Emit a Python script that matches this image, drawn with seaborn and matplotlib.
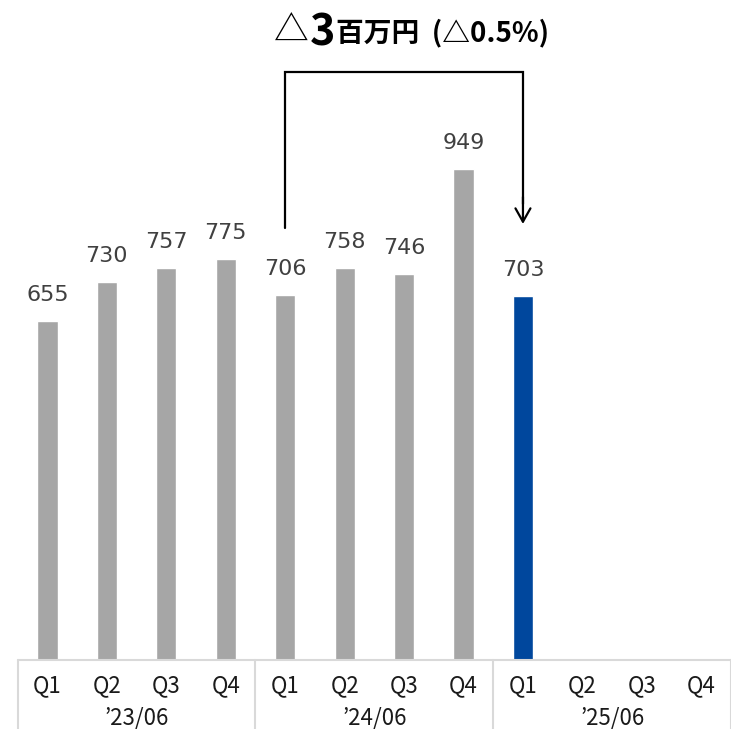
import matplotlib
matplotlib.use("Agg")
import matplotlib.pyplot as plt
import seaborn as sns
import pandas as pd

years = ["’23/06", "’24/06", "’25/06"]
quarters = ["Q1", "Q2", "Q3", "Q4"]
values = [655, 730, 757, 775, 706, 758, 746, 949, 703]
bar_colors = ["#a6a6a6"] * 8 + ["#00479d"]
delta_text = ["△", "3", "百万円  (△0.5%)"]

slots = [f"{y} {q}" for y in years for q in quarters]
df = pd.DataFrame({"slot": slots[:len(values)], "value": values,
                   "c": [str(i) for i in range(len(values))]})

sns.set_theme(style="white")
plt.rcParams['font.family'] = ['Noto Sans CJK JP', 'DejaVu Sans']

fig = plt.figure(figsize=(7.31, 7.29), dpi=100)
ax = fig.add_axes([17.7 / 731, 69 / 729, 1 - 17.7 / 731, 660 / 729])
sns.barplot(data=df, x="slot", y="value", hue="c", order=slots,
            palette=bar_colors, width=0.34, legend=False, ax=ax, dodge=False,
            saturation=1)
ax.set_ylim(0, 1275)
ax.set_xlim(-0.5, 11.5)
for s in ax.spines.values():
    s.set_visible(False)
ax.set_yticks([])
ax.set_xticks([])
ax.set_xlabel("")
ax.set_ylabel("")
ax.axhline(0, color="#d9d9d9", lw=1.5, clip_on=False)

# value labels
for i, v in enumerate(values):
    ax.text(i, v + 50, f"{v}", ha="center", va="center", fontsize=16,
            color="#404040", family="DejaVu Sans")

# quarter labels and year labels (offsets in points; 1pt = 1.39px)
for i, s in enumerate(slots):
    ax.annotate(quarters[i % 4], xy=(i, 0), xycoords="data", xytext=(0, -18.5),
                textcoords="offset points", ha="center", va="center",
                fontsize=16, color="#1a1a1a", annotation_clip=False)
for g, y in enumerate(years):
    ax.annotate(y, xy=(g * 4 + 1.5, 0), xycoords="data", xytext=(0, -42),
                textcoords="offset points", ha="center", va="center",
                fontsize=16, color="#1a1a1a", annotation_clip=False)
# group separators
for g in range(4):
    xpos = g * 4 - 0.5
    ax.plot([xpos, xpos], [0, -140], color="#d9d9d9", lw=1.5, clip_on=False)

# bracket arrow
ax.plot([4, 4, 8, 8], [835, 1136, 1136, 880], color="black", lw=1.6,
        solid_joinstyle="miter")
ax.annotate("", xy=(8, 837), xytext=(8, 900),
            arrowprops=dict(arrowstyle="->,head_length=0.8,head_width=0.45",
                            color="black", lw=1.6))

# title text pieces
fig.canvas.draw()
r = fig.canvas.get_renderer()
x0 = 274
yc = 729 - 32
sizes = [25, 31, 20]
weights = ["normal", "bold", "bold"]
dy = [0, 0, -1]
x = x0
for t, fs, fw, d in zip(delta_text, sizes, weights, dy):
    tt = fig.text(x / 731, (yc + d) / 729, t, fontsize=fs, fontweight=fw,
                  ha="left", va="center", color="black")
    bb = tt.get_window_extent(renderer=r)
    x = bb.x1 + 1

fig.savefig("out.png", dpi=100)
